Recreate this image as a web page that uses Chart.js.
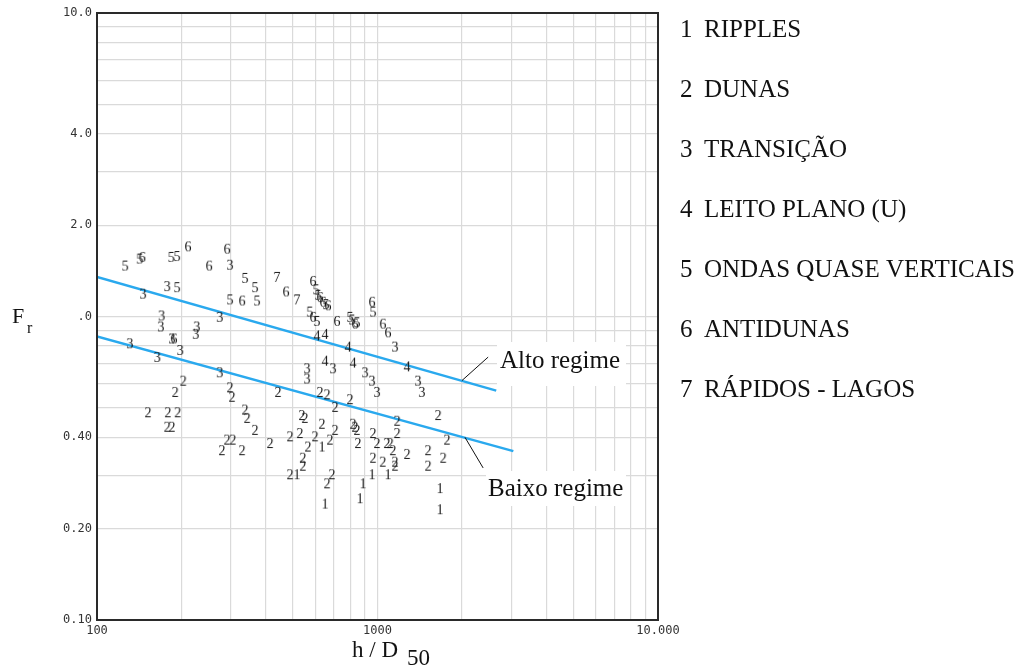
<!DOCTYPE html>
<html>
<head>
<meta charset="utf-8">
<script src="https://cdn.jsdelivr.net/npm/chart.js@4.4.0/dist/chart.umd.min.js"></script>
<style>
  html, body { margin: 0; padding: 0; background: #fff; }
  canvas { display: block; }
</style>
</head>
<body>
<canvas class="js-chart-place" width="1021" height="667"></canvas>
<script>
// [h/D50, Fr] pairs, one array per bed form
const ripples = [[634, 0.37], [516, 0.30], [650, 0.24], [956, 0.30], [888, 0.28], [866, 0.25], [1090, 0.30], [1670, 0.27], [1670, 0.23]];
const dunas = [[203, 0.61], [190, 0.56], [298, 0.58], [303, 0.54], [442, 0.56], [624, 0.56], [661, 0.55], [798, 0.53],
  [1645, 0.47], [818, 0.44], [845, 0.42], [852, 0.38], [1175, 0.45], [1175, 0.41], [964, 0.41], [996, 0.38],
  [1080, 0.38], [1110, 0.38], [1135, 0.36], [1275, 0.35], [964, 0.34], [1045, 0.33], [1155, 0.33], [1155, 0.32],
  [1515, 0.36], [1515, 0.32], [1715, 0.34], [1770, 0.39], [152, 0.48], [179, 0.48], [194, 0.48], [178, 0.43],
  [185, 0.43], [337, 0.49], [343, 0.46], [366, 0.42], [538, 0.47], [551, 0.46], [291, 0.39], [305, 0.39],
  [279, 0.36], [329, 0.36], [414, 0.38], [488, 0.40], [529, 0.41], [565, 0.37], [542, 0.34], [542, 0.32],
  [599, 0.40], [634, 0.44], [677, 0.39], [706, 0.42], [706, 0.50], [488, 0.30], [688, 0.30], [661, 0.28], [831, 0.43]];
const transicao = [[298, 1.47], [178, 1.25], [146, 1.18], [274, 0.99], [170, 1.00], [169, 0.92], [227, 0.92], [225, 0.87],
  [185, 0.84], [198, 0.77], [131, 0.81], [164, 0.73], [274, 0.65], [561, 0.67], [561, 0.62], [694, 0.67],
  [903, 0.65], [956, 0.61], [996, 0.56], [1155, 0.79], [1395, 0.61], [1440, 0.56]];
const leitoPlano = [[608, 0.86], [650, 0.87], [785, 0.79], [818, 0.70], [650, 0.71], [1275, 0.68]];
const ondasVerticais = [[126, 1.46], [142, 1.54], [184, 1.56], [193, 1.57], [193, 1.24], [337, 1.33], [366, 1.24], [372, 1.12],
  [298, 1.13], [604, 1.22], [614, 1.17], [655, 1.09], [574, 1.03], [608, 0.96], [798, 0.99], [845, 0.95],
  [964, 1.03], [811, 0.97]];
const antidunas = [[145, 1.56], [211, 1.69], [291, 1.66], [251, 1.46], [329, 1.12], [472, 1.20], [589, 1.30], [624, 1.15],
  [639, 1.11], [666, 1.08], [589, 0.99], [717, 0.96], [956, 1.11], [1045, 0.94], [1090, 0.88], [831, 0.94], [188, 0.84]];
const rapidosLagos = [[438, 1.34], [516, 1.13]];

const altoRegime = [[100, 1.35], [2650, 0.57]];
const baixoRegime = [[100, 0.86], [3050, 0.36]];

const legendItems = ['RIPPLES', 'DUNAS', 'TRANSIÇÃO', 'LEITO PLANO (U)', 'ONDAS QUASE VERTICAIS', 'ANTIDUNAS', 'RÁPIDOS - LAGOS'];

const xGridValues = [100, 200, 300, 400, 500, 600, 700, 800, 900, 1000, 2000, 3000, 4000, 5000, 6000, 7000, 8000, 9000, 10000];
const yGridValues = [0.1, 0.2, 0.3, 0.4, 0.5, 0.6, 0.7, 0.8, 0.9, 1, 2, 3, 4, 5, 6, 7, 8, 9, 10];
const xTickLabels = { 100: '100', 1000: '1000', 10000: '10.000' };
const yTickLabels = { 0.1: '0.10', 0.2: '0.20', 0.4: '0.40', 1: '.0', 2: '2.0', 4: '4.0', 10: '10.0' };

const groups = [ripples, dunas, transicao, leitoPlano, ondasVerticais, antidunas, rapidosLagos];

const makeDigit = (digit) => {
  const c = document.createElement('canvas');
  c.width = 14;
  c.height = 16;
  const ctx = c.getContext('2d');
  ctx.font = '14px "Liberation Serif", serif';
  ctx.fillStyle = '#161616';
  ctx.textAlign = 'center';
  ctx.textBaseline = 'middle';
  ctx.fillText(digit, 7, 8);
  return c;
};

const lineColor = '#2aa9ee';
const gridColor = '#dadada';
const serif = '"Liberation Serif", "Times New Roman", serif';

const decor = {
  id: 'decor',
  beforeDatasetsDraw(chart) {
    const ctx = chart.ctx;
    ctx.save();
    ctx.fillStyle = '#fff';
    // white boxes behind the regime labels
    ctx.fillRect(497, 342, 129, 44);
    ctx.fillRect(486, 471, 140, 35);
    ctx.restore();
  },
  afterDraw(chart) {
    const ctx = chart.ctx;
    const area = chart.chartArea;
    const xs = chart.scales.x;
    const ys = chart.scales.y;
    ctx.save();

    // frame
    ctx.strokeStyle = '#2a2a2a';
    ctx.lineWidth = 2;
    ctx.strokeRect(area.left, area.top, area.right - area.left, area.bottom - area.top);

    // leader lines
    ctx.strokeStyle = '#111';
    ctx.lineWidth = 1;
    const leaders = [[[2000, 0.615], [2480, 0.735]], [[2050, 0.40], [2380, 0.317]]];
    leaders.forEach(([a, b]) => {
      ctx.beginPath();
      ctx.moveTo(xs.getPixelForValue(a[0]), ys.getPixelForValue(a[1]));
      ctx.lineTo(xs.getPixelForValue(b[0]), ys.getPixelForValue(b[1]));
      ctx.stroke();
    });

    ctx.fillStyle = '#111';
    ctx.textBaseline = 'alphabetic';
    ctx.textAlign = 'left';
    ctx.font = '25px ' + serif;
    ctx.fillText('Alto regime', 500, 368);
    ctx.fillText('Baixo regime', 488, 496);

    // legend on the right
    ctx.font = '25px ' + serif;
    legendItems.forEach((label, i) => {
      const y = 37 + i * 60;
      ctx.fillText(String(i + 1), area.right + 22, y);
      ctx.fillText(label, area.right + 46, y);
    });

    // axis titles
    ctx.font = '22px ' + serif;
    ctx.fillText('F', 12, 323);
    ctx.font = '16px ' + serif;
    ctx.fillText('r', 27, 333);
    ctx.font = '23px ' + serif;
    ctx.fillText('h / D', 352, 657);
    ctx.fillText('50', 407, 665);

    ctx.restore();
  }
};

const datasets = groups.map((pts, i) => ({
  label: String(i + 1),
  data: pts.map(([x, y]) => ({ x, y })),
  pointStyle: makeDigit(String(i + 1)),
  pointRadius: 7,
  showLine: false
}));

[altoRegime, baixoRegime].forEach((pts, i) => {
  datasets.push({
    label: i === 0 ? 'Alto regime' : 'Baixo regime',
    data: pts.map(([x, y]) => ({ x, y })),
    showLine: true,
    borderColor: lineColor,
    borderWidth: 2.5,
    pointRadius: 0
  });
});

const chartPlaceElement = document.querySelector('.js-chart-place');

new Chart(chartPlaceElement, {
  type: 'scatter',
  data: { datasets: datasets },
  options: {
    responsive: false,
    animation: false,
    layout: { padding: { top: 13, right: 363, left: 0, bottom: 0 } },
    plugins: {
      legend: { display: false },
      tooltip: { enabled: false }
    },
    scales: {
      x: {
        type: 'logarithmic',
        min: 100,
        max: 10000,
        afterBuildTicks: (axis) => { axis.ticks = xGridValues.map((v) => ({ value: v })); },
        afterFit: (axis) => { axis.height = 47; },
        border: { display: false },
        grid: { color: gridColor, lineWidth: 1.2, drawTicks: false },
        ticks: {
          autoSkip: false,
          maxRotation: 0,
          padding: 4,
          color: '#333',
          font: { family: '"DejaVu Sans Mono", monospace', size: 12 },
          callback: (v) => xTickLabels[v] || ''
        }
      },
      y: {
        type: 'logarithmic',
        min: 0.1,
        max: 10,
        afterBuildTicks: (axis) => { axis.ticks = yGridValues.map((v) => ({ value: v })); },
        afterFit: (axis) => { axis.width = 97; },
        border: { display: false },
        grid: { color: gridColor, lineWidth: 1.2, drawTicks: false },
        ticks: {
          autoSkip: false,
          padding: 5,
          color: '#333',
          font: { family: '"DejaVu Sans Mono", monospace', size: 12 },
          callback: (v) => yTickLabels[v] || ''
        }
      }
    }
  },
  plugins: [decor]
});
</script>
</body>
</html>
